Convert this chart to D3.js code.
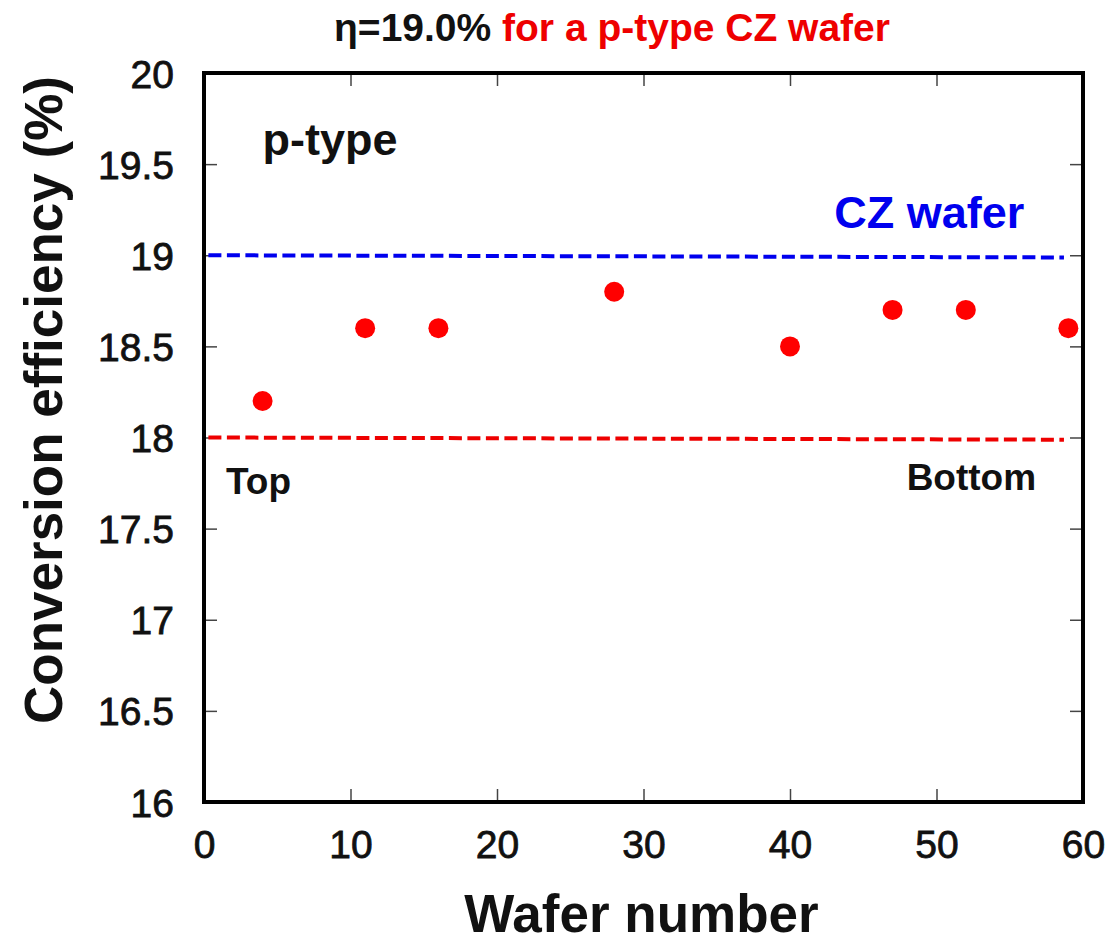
<!DOCTYPE html>
<html>
<head>
<meta charset="utf-8">
<script src="https://cdn.jsdelivr.net/npm/d3@7"></script>
<style>
  body { margin: 0; background: #fff; }
  svg { display: block; }
</style>
</head>
<body>
<div id="chart"></div>
<script>
// wafer positions along the ingot and measured efficiency
const waferNumbers = [4, 11, 16, 28, 40, 47, 52, 59];
const efficiencies = [18.2, 18.6, 18.6, 18.8, 18.5, 18.7, 18.7, 18.6];

const xTicks = [0, 10, 20, 30, 40, 50, 60];
const yTicks = [16, 16.5, 17, 17.5, 18, 18.5, 19, 19.5, 20];

// reference levels: CZ wafer (blue) and lower bound (red)
const refLines = [
  { value: 19.0, color: "#0000ee" },
  { value: 18.0, color: "#ee0000" }
];

const W = 1108, H = 947;
const margin = { top: 73, right: 25, bottom: 145, left: 204 };
const width = W - margin.left - margin.right;
const height = H - margin.top - margin.bottom;

const svg = d3.select("#chart").append("svg")
  .attr("width", W)
  .attr("height", H);

const g = svg.append("g")
  .attr("transform", `translate(${margin.left},${margin.top})`);

const x = d3.scaleLinear().domain([0, 60]).range([0, width]);
const y = d3.scaleLinear().domain([16, 20]).range([height, 0]);

const font = "'Liberation Sans', Arial, sans-serif";
const tickFmt = d => (d % 1 === 0 ? d3.format("d")(d) : d3.format(".1f")(d));

// inward ticks on all four sides
const tickLen = 13;
const axes = [
  d3.axisBottom(x).tickValues(xTicks).tickSize(-tickLen).tickFormat(d3.format("d")),
  d3.axisTop(x).tickValues(xTicks).tickSize(-tickLen).tickFormat(""),
  d3.axisLeft(y).tickValues(yTicks).tickSize(-tickLen).tickFormat(tickFmt),
  d3.axisRight(y).tickValues(yTicks).tickSize(-tickLen).tickFormat("")
];
const transforms = [
  `translate(0,${height})`, "translate(0,0)", "translate(0,0)", `translate(${width},0)`
];

axes.forEach((ax, i) => {
  const a = g.append("g").attr("transform", transforms[i]).call(ax);
  a.select(".domain").remove();
  a.selectAll(".tick line").attr("stroke", "#444").attr("stroke-width", 1.5);
  a.selectAll(".tick text")
    .attr("font-family", font)
    .attr("font-size", "39px")
    .attr("fill", "#111")
    .attr("stroke", "#111")
    .attr("stroke-width", 0.8);
  if (i === 0) a.selectAll(".tick text").attr("dy", "1.37em");
  if (i === 2) a.selectAll(".tick text").attr("x", -30).attr("dy", "0.36em");
});

// frame
g.append("rect")
  .attr("width", width)
  .attr("height", height)
  .attr("fill", "none")
  .attr("stroke", "#000")
  .attr("stroke-width", 4);

// dashed reference lines
g.selectAll(".ref")
  .data(refLines)
  .join("line")
  .attr("class", "ref")
  .attr("x1", x(0.3))
  .attr("x2", x(58.7))
  .attr("y1", d => y(d.value))
  .attr("y2", d => y(d.value - 0.012))
  .attr("stroke", d => d.color)
  .attr("stroke-width", 4)
  .attr("stroke-dasharray", "13,5.5");

// data points
g.selectAll(".dot")
  .data(waferNumbers)
  .join("circle")
  .attr("class", "dot")
  .attr("cx", d => x(d))
  .attr("cy", (d, i) => y(efficiencies[i]))
  .attr("r", 10)
  .attr("fill", "#ff0000");

// annotations inside the plot
const notes = [
  { text: "p-type", x: 4.0, y: 19.55, size: 45, color: "#111", anchor: "start" },
  { text: "CZ wafer", x: 56.0, y: 19.15, size: 45, color: "#0000ee", anchor: "end" },
  { text: "Top", x: 1.5, y: 17.69, size: 37, color: "#111", anchor: "start" },
  { text: "Bottom", x: 56.8, y: 17.71, size: 37, color: "#111", anchor: "end" }
];
g.selectAll(".note")
  .data(notes)
  .join("text")
  .attr("class", "note")
  .attr("x", d => x(d.x))
  .attr("y", d => y(d.y))
  .attr("text-anchor", d => d.anchor)
  .attr("font-family", font)
  .attr("font-weight", "bold")
  .attr("font-size", d => d.size + "px")
  .attr("fill", d => d.color)
  .text(d => d.text);

// title
const title = svg.append("text")
  .attr("x", 612)
  .attr("y", 41)
  .attr("text-anchor", "middle")
  .attr("font-family", "'Liberation Sans Narrow', " + font)
  .attr("font-weight", "bold")
  .attr("font-size", "39px");
title.append("tspan").attr("fill", "#111").text("η=19.0% ");
title.append("tspan").attr("fill", "#ee0000").text("for a p-type CZ wafer");

// axis titles
svg.append("text")
  .attr("x", margin.left + x(30) - 2)
  .attr("y", 932)
  .attr("text-anchor", "middle")
  .attr("font-family", font)
  .attr("font-weight", "bold")
  .attr("font-size", "53px")
  .attr("fill", "#111")
  .text("Wafer number");

svg.append("text")
  .attr("transform", `translate(62,400) rotate(-90)`)
  .attr("text-anchor", "middle")
  .attr("font-family", font)
  .attr("font-weight", "bold")
  .attr("font-size", "53px")
  .attr("fill", "#111")
  .text("Conversion efficiency (%)");
</script>
</body>
</html>
